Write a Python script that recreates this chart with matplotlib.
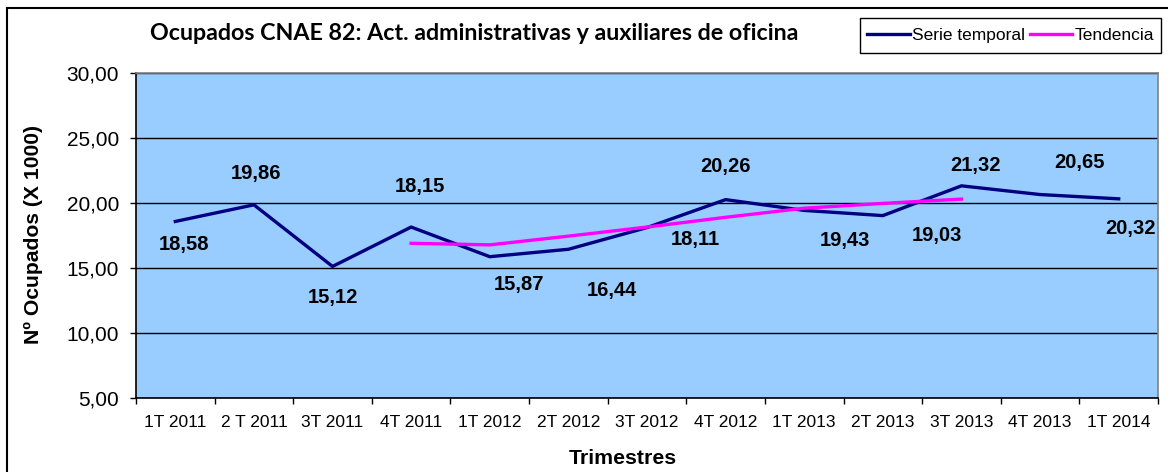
import matplotlib
matplotlib.use('Agg')
import matplotlib.pyplot as plt
from matplotlib.patches import Rectangle

# ---- data ----
categories = ['1T 2011', '2 T 2011', '3T 2011', '4T 2011', '1T 2012', '2T 2012',
              '3T 2012', '4T 2012', '1T 2013', '2T 2013', '3T 2013', '4T 2013', '1T 2014']
serie_temporal = [18.58, 19.86, 15.12, 18.15, 15.87, 16.44, 18.11, 20.26,
                  19.43, 19.03, 21.32, 20.65, 20.32]
tendencia_start = 3
tendencia = [16.90, 16.78, 17.45, 18.15, 18.90, 19.60, 19.97, 20.30]
yticks = [5, 10, 15, 20, 25, 30]
title = 'Ocupados CNAE 82: Act. administrativas y auxiliares de oficina'
ylabel = 'Nº Ocupados (X 1000)'
xlabel = 'Trimestres'
legend_labels = ['Serie temporal', 'Tendencia']

# ---- style ----
# label offsets (pixels, +x right, +y down) relative to each point
label_offsets = [(9, 23), (2, -31), (0, 31), (9, -41), (29, 28), (43, 41), (48, 12),
                 (0, -33), (41, 30), (54, 20), (14, -20), (39, -32), (12, 30)]

W, H = 1168, 472
FONT = ['Liberation Sans', 'DejaVu Sans']
plt.rcParams['font.family'] = FONT

fig = plt.figure(figsize=(W / 100, H / 100), dpi=100)
fig.patch.set_facecolor('white')
ax = fig.add_axes([136 / W, 1 - 398 / H, 1022 / W, 325 / H])
ax.set_facecolor('#99CCFF')

x = list(range(len(categories)))
l1, = ax.plot(x, serie_temporal, color='#000080', lw=2.4, zorder=3)
l2, = ax.plot(list(range(tendencia_start, tendencia_start + len(tendencia))), tendencia,
              color='#FF00FF', lw=2.4, zorder=4)

ax.set_xlim(-0.5, len(categories) - 0.5)
ax.set_ylim(yticks[0], yticks[-1])
ax.set_yticks(yticks)
ax.set_yticklabels([f'{v:.2f}'.replace('.', ',') for v in yticks], fontsize=15)
ax.yaxis.grid(True, color='black', lw=1)
ax.set_axisbelow(True)

ax.set_xticks([i - 0.5 for i in range(len(categories) + 1)])
ax.set_xticklabels([])
ax.set_xticks(x, minor=True)
ax.set_xticklabels(categories, minor=True, fontsize=12.5)
ax.tick_params(axis='x', which='major', direction='out', length=4.3, width=1, color='black')
ax.tick_params(axis='x', which='minor', length=0, pad=12)
ax.tick_params(axis='y', direction='out', length=4.3, width=1, color='black', pad=8)

for s in ['left', 'bottom']:
    ax.spines[s].set_color('black')
    ax.spines[s].set_linewidth(1.2)
for s in ['top', 'right']:
    ax.spines[s].set_color('#808080')
    ax.spines[s].set_linewidth(1.2)

for i, v in enumerate(serie_temporal):
    dx, dy = label_offsets[i]
    ax.annotate(f'{v:.2f}'.replace('.', ','), (i, v), xytext=(dx, -dy),
                textcoords='offset pixels', ha='center', va='center',
                fontsize=14.5, fontweight='bold', color='black', zorder=5)

t_title = fig.text(474 / W, 1 - 34 / H, title, ha='center', va='center',
                   fontsize=13, fontweight='bold', family=['Lato', 'DejaVu Sans'])
t_y = fig.text(33 / W, 1 - 235 / H, ylabel, ha='center', va='center', rotation=90,
               fontsize=14, fontweight='bold')
t_x = fig.text(623 / W, 1 - 458 / H, xlabel, ha='center', va='center',
               fontsize=14, fontweight='bold')

# legend box drawn explicitly, legend content centred inside
bx0, by0, bx1, by1 = 860, 18, 1161, 53
fig.patches.append(Rectangle((bx0 / W, 1 - by1 / H), (bx1 - bx0) / W, (by1 - by0) / H,
                             transform=fig.transFigure, facecolor='white',
                             edgecolor='black', lw=1, zorder=1))
leg = fig.legend([l1, l2], legend_labels, loc='center',
                 bbox_to_anchor=((bx0 + bx1) / 2 / W, 1 - (by0 + by1) / 2 / H),
                 ncol=2, frameon=False, fontsize=12.5,
                 handlelength=2.45, handletextpad=0.12,
                 columnspacing=0.3, borderpad=0.0, borderaxespad=0)
leg.set_zorder(2)

fig.patches.append(Rectangle((7 / W, -0.05), 1.2, (H - 8) / H + 0.05,
                             transform=fig.transFigure, fill=False,
                             edgecolor='black', lw=1.5))

# fit text sizes to reference extents
fig.canvas.draw()
r = fig.canvas.get_renderer()
for t, target, dim in [(t_title, 652, 'w'), (t_x, 108, 'w'), (t_y, 220, 'h')]:
    bb = t.get_window_extent(r)
    cur = bb.width if dim == 'w' else bb.height
    t.set_fontsize(t.get_fontsize() * target / cur)

fig.savefig('out.png', dpi=100)
